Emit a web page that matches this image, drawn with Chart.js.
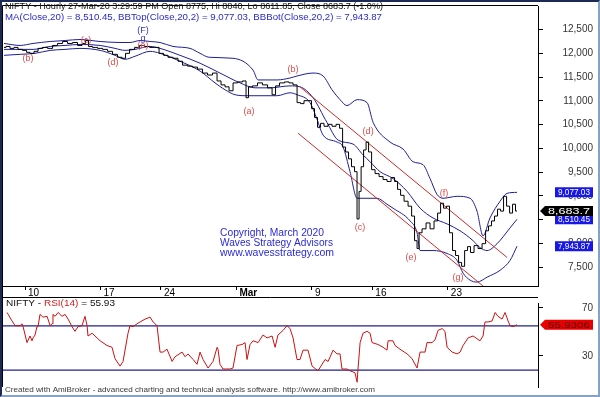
<!DOCTYPE html>
<html>
<head>
<meta charset="utf-8">
<script src="https://cdn.jsdelivr.net/npm/chart.js@4.4.1/dist/chart.umd.min.js"></script>
<style>
  body { margin: 0; background: #fff; }
  #wrap { position: relative; width: 600px; height: 397px; overflow: hidden; background: #fff; }
  canvas { position: absolute; left: 0; }
  #frame { position: absolute; left: 0; top: 0; width: 596px; height: 393px;
           border: 2px solid #86a2c6; border-left-color: #1c2a55; border-top-color: #1c2a55; pointer-events: none; }
</style>
</head>
<body>
<div id="wrap">
  <canvas id="priceChart" width="600" height="297" style="top:0"></canvas>
  <canvas id="rsiChart" width="600" height="100" style="top:297px"></canvas>
  <div id="frame"></div>
</div>
<script>
// x values are trading days counted from 10-Feb-2020 (day 0)
const dateTickPos = [0, 5, 9, 14, 19, 23, 28];
const dateTickLabels = ["10", "17", "24", "Mar", "9", "16", "23"];
const xMin = -1.46, xMax = 33.97;

const priceTicks = [7500, 8000, 8500, 9000, 9500, 10000, 10500, 11000, 11500, 12000, 12500];
const priceMin = 7106, priceMax = 12998;

// hourly closes (sampled)
const priceX = [-1.39,-1.13,-0.86,-0.60,-0.33,0.00,0.20,0.46,0.73,0.99,
  1.32,1.66,1.99,2.32,2.65,2.98,3.31,3.64,3.91,4.11,
  4.30,4.64,4.97,5.30,5.63,5.96,6.29,6.56,6.75,7.09,
  7.42,7.75,8.08,8.41,8.74,9.01,9.34,9.60,10.00,10.26,
  10.60,10.93,11.26,11.59,11.92,12.25,12.58,12.85,13.11,13.38,
  13.64,13.91,14.24,14.57,14.70,14.90,15.23,15.56,15.89,16.23,
  16.49,16.69,17.02,17.35,17.62,17.88,18.15,18.34,18.61,18.87,
  19.07,19.27,19.47,19.67,19.93,20.20,20.46,20.73,20.93,21.13,
  21.32,21.52,21.72,21.92,22.05,22.19,22.32,22.52,22.65,22.85,
  23.05,23.31,23.58,23.84,24.11,24.37,24.57,24.77,24.97,25.23,
  25.50,25.70,25.89,26.03,26.16,26.42,26.69,26.95,27.22,27.42,
  27.62,27.81,28.01,28.21,28.41,28.61,28.81,29.01,29.21,29.40,
  29.60,29.87,30.13,30.40,30.60,30.79,30.99,31.19,31.39,31.59,
  31.79,31.99,32.19,32.38,32.58];
const priceClose = [12127,12147,12106,12127,12085,12064,12023,12002,12044,12106,
  12127,12106,12168,12210,12251,12210,12230,12168,12210,12272,
  12147,12127,12106,12085,12044,11981,11919,11898,12002,12085,
  12127,12168,12147,12127,12127,12002,11960,11919,11898,11836,
  11753,11732,11712,11670,11587,11546,11587,11421,11338,11297,
  11214,11380,11400,11421,11068,11297,11317,11380,11338,11276,
  11131,11317,11380,11400,11380,11338,10965,10944,11006,11006,
  10840,10653,10446,10529,10467,10508,10467,10508,10425,10031,
  9927,9782,9616,9512,8516,9097,9616,9969,10135,9927,
  9554,9471,9408,9346,9305,9388,9305,9139,9014,8890,
  8786,8578,8060,7894,8226,8309,8433,8309,8475,8640,
  8848,8744,8786,8226,7852,7748,7603,7520,7852,7935,
  7811,7956,7894,7997,8267,8371,8475,8578,8723,8682,
  8993,8786,8640,8827,8683.7];

// Bollinger bands (20, 2)
const topX = [-1.39,-0.33,0.53,1.66,2.65,3.64,4.97,6.29,6.95,7.62,8.28,8.94,9.80,10.93,11.59,12.19,13.77,15.10,15.43,16.69,
  17.55,18.01,19.07,19.74,20.33,20.86,21.32,21.99,22.65,23.05,24.17,25.03,25.70,26.36,26.82,27.28,27.68,28.61,29.47,29.93,
  30.33,30.79,31.46,31.92,32.58];
const bbTop = [12210,12168,12210,12251,12272,12293,12251,12230,12230,12272,12251,12230,12147,12106,12002,11919,11898,11649,11442,11442,
  11483,11525,11587,11525,11234,11027,10902,11027,10965,10550,10135,9989,9720,9657,9367,9035,8952,8993,8952,8682,
  8163,8537,8890,9056,9077.03];
const maX = [-1.39,-0.33,0.53,1.66,2.65,3.64,4.97,5.96,6.62,7.28,8.28,8.94,10.26,11.59,12.91,14.24,15.23,16.23,17.55,18.21,
  19.07,19.99,20.73,21.72,22.38,22.85,23.51,24.37,25.30,26.16,27.02,27.95,28.81,29.67,30.13,30.60,31.26,32.12,32.58];
const ma = [12085,12085,12085,12147,12168,12189,12168,12106,12064,12085,12147,12106,11960,11794,11587,11380,11276,11276,11317,11297,
  11068,10550,10176,10093,9865,9720,9512,9367,9097,8744,8537,8412,8267,8060,7914,7852,7997,8329,8510.45];
const botX = [-1.39,-0.33,0.66,1.66,2.65,3.64,4.97,5.96,6.62,7.28,8.28,8.94,10.26,11.59,12.58,13.25,13.91,14.70,16.69,17.55,
  18.01,18.87,19.34,19.74,20.66,21.06,21.52,21.99,23.31,23.97,24.37,25.50,25.96,26.16,27.02,27.95,28.61,29.01,29.47,29.93,
  30.60,31.46,32.12,32.58];
const bbBot = [11960,11981,12002,12064,12085,12106,12064,11960,11877,11940,12044,12002,11836,11629,11380,11234,11131,11110,11110,11172,
  11131,10965,10612,10280,10135,10031,9512,8952,8952,8827,8744,8475,8226,7852,7852,7790,7645,7375,7230,7188,
  7292,7437,7645,7943.87];

// falling channel drawn by the analyst
const channelX = [18.21, 31.92];
const channelUpper = [11296, 7707];
const channelLowerX = [18.08, 30.33];
const channelLower = [10321, 7105];

// wave labels
const waveText = ["(b)", "(c)", "(d)", "(e)", "(F)", "g", "(a)", "(b)", "(d)", "(c)", "(e)", "(f)", "(g)"];
const waveX = [0.20, 4.04, 5.83, 7.81, 7.81, 7.81, 14.83, 17.75, 22.72, 22.19, 25.56, 27.75, 28.68];
const waveY = [11898, 12272, 11815, 12168, 12479, 12313, 10778, 11670, 10363, 8329, 7707, 9056, 7292];

// RSI(14)
const rsiX = [-1.19,-0.86,-0.66,-0.33,-0.20,-0.13,0.13,0.33,0.46,0.53,0.66,0.79,0.86,0.99,1.13,1.19,1.46,1.66,1.79,1.85,
  1.99,2.19,2.45,2.65,2.85,3.11,3.31,3.51,3.77,3.97,4.11,4.17,4.44,4.77,4.97,5.43,5.76,5.96,6.29,6.49,
  6.82,6.95,7.15,7.42,7.62,7.95,8.28,8.48,8.74,8.94,9.14,9.40,9.74,9.93,10.40,10.60,10.79,11.13,11.39,11.59,
  11.79,12.12,12.45,12.72,12.78,12.91,13.11,13.58,13.77,14.04,14.37,14.57,14.70,14.90,15.10,15.43,15.76,16.03,16.36,16.56,
  16.75,17.09,17.35,17.55,17.75,18.01,18.21,18.41,18.74,19.01,19.40,19.87,20.07,20.40,20.66,20.86,20.99,21.32,21.52,21.85,
  21.99,22.05,22.19,22.38,22.65,22.85,22.98,23.38,23.71,23.97,24.04,24.37,24.50,24.83,25.30,25.63,25.96,26.16,26.49,26.62,
  26.95,27.15,27.35,27.62,27.81,27.95,28.28,28.61,28.81,29.01,29.34,29.67,30.13,30.33,30.46,30.66,30.93,31.13,31.32,31.59,
  31.79,31.99,32.12,32.32,32.58];
const rsiVal = [66.1,59.0,55.1,55.1,56.7,54.3,41.0,46.5,42.5,44.9,47.3,54.3,54.3,64.5,62.9,62.2,62.9,55.1,56.7,64.5,
  62.9,66.1,62.9,64.5,60.6,54.3,50.4,54.3,55.1,62.9,55.1,46.5,48.8,44.9,42.5,38.6,37.1,27.6,21.4,25.3,
  48.8,55.1,54.3,56.7,58.2,60.6,62.2,58.2,55.1,33.1,33.1,35.5,25.3,29.2,33.1,29.2,31.6,26.9,22.9,33.1,
  26.9,19.8,25.3,37.1,35.5,22.9,19.0,19.0,19.8,38.6,39.4,41.0,26.9,39.4,42.5,41.0,47.3,44.9,46.5,37.1,
  47.3,51.2,55.1,52.7,44.9,26.9,26.9,34.7,34.7,21.4,17.5,26.9,25.3,34.7,31.6,31.6,19.0,19.0,17.5,15.9,
  8.0,19.0,41.0,48.8,50.4,48.8,41.0,39.4,37.1,34.7,42.5,42.5,38.6,35.5,31.6,27.6,19.8,33.1,33.1,41.0,
  41.0,43.3,51.2,52.7,50.4,37.1,33.1,31.6,33.1,38.6,44.9,46.5,42.5,46.5,58.2,58.2,59.0,66.1,62.9,60.6,
  66.1,59.0,55.1,54.3,55.93];
const rsiLevels = [55, 18];
const rsiTicks = [70, 30];
const rsiMin = 4, rsiMax = 74;

const lastClose = 8683.7, lastMa = 8510.45, lastTop = 9077.03, lastBot = 7943.87, lastRsi = 55.9306;

const bandColor = "#1e1e96";
const waveRed = "#e04a4a";
const font = '"Liberation Sans", Arial, sans-serif';

function pts(xs, ys) {
  return xs.map((x, i) => ({ x: x, y: ys[i] }));
}

// draws text squeezed/stretched to a target width (the source image is not square-pixel)
function fitText(ctx, parts, x, y, width, size) {
  ctx.save();
  ctx.font = size + "px " + font;
  ctx.textBaseline = "middle";
  ctx.textAlign = "left";
  const w = ctx.measureText(parts.map(p => p[0]).join("")).width;
  ctx.translate(x, y);
  ctx.scale(width / w, 1);
  let cx = 0;
  parts.forEach(p => {
    ctx.fillStyle = p[1];
    ctx.fillText(p[0], cx, 0);
    cx += ctx.measureText(p[0]).width;
  });
  ctx.restore();
}

function tag(ctx, area, text, y, bg, fg, arrow) {
  const r = area.right;
  const x0 = arrow ? r + 7 : r + 17;
  const x1 = r + 55;
  const h = 10;
  ctx.save();
  ctx.fillStyle = bg;
  ctx.beginPath();
  if (arrow) {
    ctx.moveTo(r + 2, y);
    ctx.lineTo(x0, y - h / 2);
    ctx.lineTo(x1, y - h / 2);
    ctx.lineTo(x1, y + h / 2);
    ctx.lineTo(x0, y + h / 2);
    ctx.closePath();
  } else {
    ctx.rect(x0, y - h / 2, x1 - x0, h);
  }
  ctx.fill();
  ctx.restore();
  const tx = arrow ? r + 10 : r + 20;
  fitText(ctx, [[text, fg]], tx, y + 0.5, x1 - tx - 3, 9);
}

function frameLines(ctx, area) {
  ctx.save();
  ctx.strokeStyle = "#000";
  ctx.lineWidth = 1;
  ctx.beginPath();
  ctx.moveTo(area.right, area.top - 0.5);
  ctx.lineTo(area.left - 0.5, area.top - 0.5);
  ctx.lineTo(area.left - 0.5, area.bottom + 11);
  ctx.stroke();
  ctx.restore();
}

const pricePlugin = {
  id: "priceDecor",
  afterDraw(chart) {
    const ctx = chart.ctx, area = chart.chartArea;
    const xs = chart.scales.x, ys = chart.scales.y;
    frameLines(ctx, area);

    // wave counts
    ctx.save();
    ctx.font = "9px " + font;
    ctx.textAlign = "center";
    ctx.textBaseline = "middle";
    waveText.forEach((t, i) => {
      ctx.fillStyle = (t === "(F)" || t === "g") ? "#3434c4" : waveRed;
      ctx.fillText(t, xs.getPixelForValue(waveX[i]), ys.getPixelForValue(waveY[i]));
    });
    ctx.restore();

    fitText(ctx, [["NIFTY - Hourly 27-Mar-20 3:29:59 PM Open 8775, Hi 8840, Lo 8611.85, Close 8683.7 (-1.0%)", "#111"]], 5, 7, 378, 8.5);
    fitText(ctx, [["MA(Close,20) = 8,510.45, BBTop(Close,20,2) = 9,077.03, BBBot(Close,20,2) = 7,943.87", "#2a2ac8"]], 5, 17.5, 377, 8.5);
    fitText(ctx, [["Copyright, March 2020", "#2b2bd4"]], 220, 233, 104, 10);
    fitText(ctx, [["Waves Strategy Advisors", "#2b2bd4"]], 220, 243, 113, 10);
    fitText(ctx, [["www.wavesstrategy.com", "#2b2bd4"]], 220, 253, 114, 10);

    tag(ctx, area, "9,077.03", ys.getPixelForValue(lastTop), "#1717e8", "#fff", false);
    tag(ctx, area, "8,510.45", ys.getPixelForValue(lastMa), "#1717e8", "#fff", false);
    tag(ctx, area, "7,943.87", ys.getPixelForValue(lastBot), "#1717e8", "#fff", false);
    tag(ctx, area, "8,683.7", ys.getPixelForValue(lastClose), "#000", "#fff", true);
  }
};

const rsiPlugin = {
  id: "rsiDecor",
  afterDraw(chart) {
    const ctx = chart.ctx, area = chart.chartArea;
    ctx.save();
    ctx.strokeStyle = "#000";
    ctx.beginPath();
    ctx.moveTo(area.left - 0.5, 0.5);
    ctx.lineTo(area.right, 0.5);
    ctx.moveTo(area.left - 0.5, 0);
    ctx.lineTo(area.left - 0.5, area.bottom);
    ctx.stroke();
    ctx.restore();
    fitText(ctx, [["NIFTY - ", "#111"], ["RSI(14)", "#d02020"], [" = 55.93", "#111"]], 6, 6.5, 109, 9);
    fitText(ctx, [["Created with AmiBroker - advanced charting and technical analysis software. http://www.amibroker.com", "#3a3a3a"]], 5, 92.5, 370, 7.5);
    tag(ctx, area, "55.9306", chart.scales.y.getPixelForValue(lastRsi), "#e80000", "#5a0000", true);
  }
};

const axisFont = { family: font, size: 10 };

new Chart(document.getElementById("priceChart"), {
  type: "line",
  data: {
    datasets: [
      { data: pts(priceX, priceClose), borderColor: "#000", borderWidth: 1, stepped: "middle", pointRadius: 0 },
      { data: pts(channelX, channelUpper), borderColor: "#cc2a2a", borderWidth: 1, pointRadius: 0 },
      { data: pts(channelLowerX, channelLower), borderColor: "#cc2a2a", borderWidth: 1, pointRadius: 0 },
      { data: pts(topX, bbTop), borderColor: bandColor, borderWidth: 1, pointRadius: 0, cubicInterpolationMode: "monotone" },
      { data: pts(maX, ma), borderColor: bandColor, borderWidth: 1, pointRadius: 0, cubicInterpolationMode: "monotone" },
      { data: pts(botX, bbBot), borderColor: bandColor, borderWidth: 1, pointRadius: 0, cubicInterpolationMode: "monotone" }
    ]
  },
  options: {
    responsive: false,
    animation: false,
    devicePixelRatio: 1,
    layout: { padding: { left: 3, right: 7, top: 2, bottom: 0 } },
    plugins: { legend: { display: false }, tooltip: { enabled: false } },
    scales: {
      x: {
        type: "linear", min: xMin, max: xMax,
        afterBuildTicks: s => { s.ticks = dateTickPos.map(v => ({ value: v })); },
        afterFit: s => { s.height = 11; },
        grid: { drawOnChartArea: false, drawTicks: true, tickLength: 4, color: "#000" },
        border: { display: true, color: "#000" },
        ticks: {
          callback: (v, i) => dateTickLabels[i],
          align: "start", labelOffset: 3, padding: -3, maxRotation: 0, autoSkip: false, color: "#000",
          font: c => ({ family: font, size: 10, weight: dateTickLabels[c.index] === "Mar" ? "bold" : "normal" })
        }
      },
      y: {
        position: "right", min: priceMin, max: priceMax,
        afterBuildTicks: s => { s.ticks = priceTicks.map(v => ({ value: v })); },
        afterFit: s => { s.width = 55; },
        grid: { drawOnChartArea: false, tickLength: 5, color: "#000" },
        border: { display: true, color: "#000" },
        ticks: { callback: v => v.toLocaleString("en-US"), crossAlign: "far", padding: 0, color: "#333", font: axisFont }
      }
    }
  },
  plugins: [pricePlugin]
});

new Chart(document.getElementById("rsiChart"), {
  type: "line",
  data: {
    datasets: [
      { data: pts(rsiX, rsiVal), borderColor: "#cc1010", borderWidth: 1, pointRadius: 0 },
      { data: pts([xMin, xMax], [rsiLevels[0], rsiLevels[0]]), borderColor: "#20208a", borderWidth: 1.2, pointRadius: 0 },
      { data: pts([xMin, xMax], [rsiLevels[1], rsiLevels[1]]), borderColor: "#20208a", borderWidth: 1.2, pointRadius: 0 }
    ]
  },
  options: {
    responsive: false,
    animation: false,
    devicePixelRatio: 1,
    layout: { padding: { left: 3, right: 7, top: 1, bottom: 10 } },
    plugins: { legend: { display: false }, tooltip: { enabled: false } },
    scales: {
      x: { type: "linear", min: xMin, max: xMax, display: false },
      y: {
        position: "right", min: rsiMin, max: rsiMax,
        afterBuildTicks: s => { s.ticks = rsiTicks.map(v => ({ value: v })); },
        afterFit: s => { s.width = 55; },
        grid: { drawOnChartArea: false, tickLength: 5, color: "#000" },
        border: { display: true, color: "#000" },
        ticks: { crossAlign: "far", padding: 0, color: "#333", font: axisFont }
      }
    }
  },
  plugins: [rsiPlugin]
});
</script>
</body>
</html>
